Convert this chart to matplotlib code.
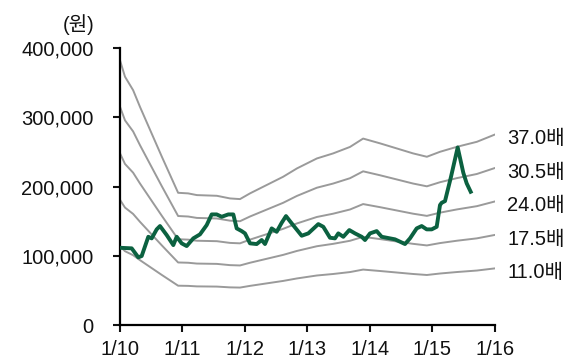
import numpy as np
import matplotlib
matplotlib.use("Agg")
import matplotlib.pyplot as plt
from matplotlib.ticker import FuncFormatter

plt.rcParams["font.family"] = ["Liberation Sans", "Noto Sans CJK KR", "DejaVu Sans"]

# band base (EPS, won); x in years since 1/10
eps_t = [0.00, 0.08, 0.21, 0.32, 0.53, 0.67, 0.93, 1.09, 1.23, 1.55, 1.76, 1.92,
         2.08, 2.29, 2.61, 2.83, 3.15, 3.41, 3.68, 3.89, 4.16, 4.43, 4.69, 4.91,
         5.12, 5.39, 5.71, 6.00]
eps = [10330, 9690, 9165, 8513, 7344, 6566, 5160, 5137, 5070, 5043, 4940, 4914,
       5137, 5394, 5785, 6110, 6500, 6697, 6950, 7276, 7090, 6890, 6697, 6566,
       6760, 6954, 7150, 7435]
multiples = [37.0, 30.5, 24.0, 17.5, 11.0]

# share price (won)
price_t = [0.000, 0.187, 0.293, 0.347, 0.453, 0.507, 0.587, 0.640, 0.747, 0.853,
           0.907, 0.987, 1.067, 1.173, 1.280, 1.387, 1.467, 1.547, 1.627, 1.733,
           1.813, 1.867, 1.947, 2.000, 2.080, 2.187, 2.267, 2.320, 2.427, 2.507,
           2.587, 2.656, 2.747, 2.907, 3.013, 3.173, 3.253, 3.360, 3.440, 3.493,
           3.573, 3.669, 3.760, 3.867, 3.920, 4.000, 4.107, 4.187, 4.400, 4.560,
           4.640, 4.747, 4.827, 4.907, 4.987, 5.067, 5.120, 5.147, 5.200, 5.296,
           5.403, 5.493, 5.547, 5.611]
price = [111500, 110700, 97700, 99600, 127400, 125100, 138100, 142900, 129900, 115400,
         127400, 117900, 114000, 125100, 130900, 144300, 159700, 159700, 156300, 159700,
         159700, 139500, 135600, 132300, 117900, 116900, 122700, 116900, 139500, 134600,
         147600, 157300, 146800, 128900, 132300, 145700, 141800, 126000, 125100, 132300,
         127400, 137100, 132300, 127400, 122700, 132300, 135600, 127400, 123700, 116900,
         125100, 139500, 142900, 138100, 138100, 141800, 173200, 176500, 178900, 214000,
         256400, 219800, 204500, 192400]

x_labels = ["1/10", "1/11", "1/12", "1/13", "1/14", "1/15", "1/16"]
y_ticks = [0, 100000, 200000, 300000, 400000]

fig = plt.figure(figsize=(5.78, 3.62), dpi=100)
ax = fig.add_axes([0.2076, 0.1022, 0.6488, 0.7652])

eps_arr = np.array(eps)
for m in multiples:
    band = eps_arr * m
    ax.plot(eps_t, band, color="#9a9a9a", linewidth=1.4, zorder=2)
    ax.annotate(f"{m:.1f}배", xy=(eps_t[-1], band[-1]), xytext=(9, -3),
                textcoords="offset points", va="center", ha="left",
                fontsize=14.5, color="#111111", annotation_clip=False)

ax.plot(price_t, price, color="#0b6140", linewidth=2.8, zorder=3,
        solid_joinstyle="round")

ax.set_xlim(0, 6)
ax.set_ylim(0, 400000)
ax.set_xticks(range(len(x_labels)))
ax.set_xticklabels(x_labels)
ax.set_yticks(y_ticks)
ax.yaxis.set_major_formatter(FuncFormatter(lambda v, p: f"{int(v):,}"))
ax.tick_params(axis="both", direction="out", length=5, width=1.5,
               labelsize=14.5, colors="#111111", pad=14)
ax.tick_params(axis="x", pad=6)

for s in ["top", "right"]:
    ax.spines[s].set_visible(False)
for s in ["left", "bottom"]:
    ax.spines[s].set_linewidth(1.6)
    ax.spines[s].set_color("black")

fig.text(0.164, 0.932, "(원)", ha="right", va="center", fontsize=14.5, color="#111111")

plt.savefig("out.png", dpi=100)
